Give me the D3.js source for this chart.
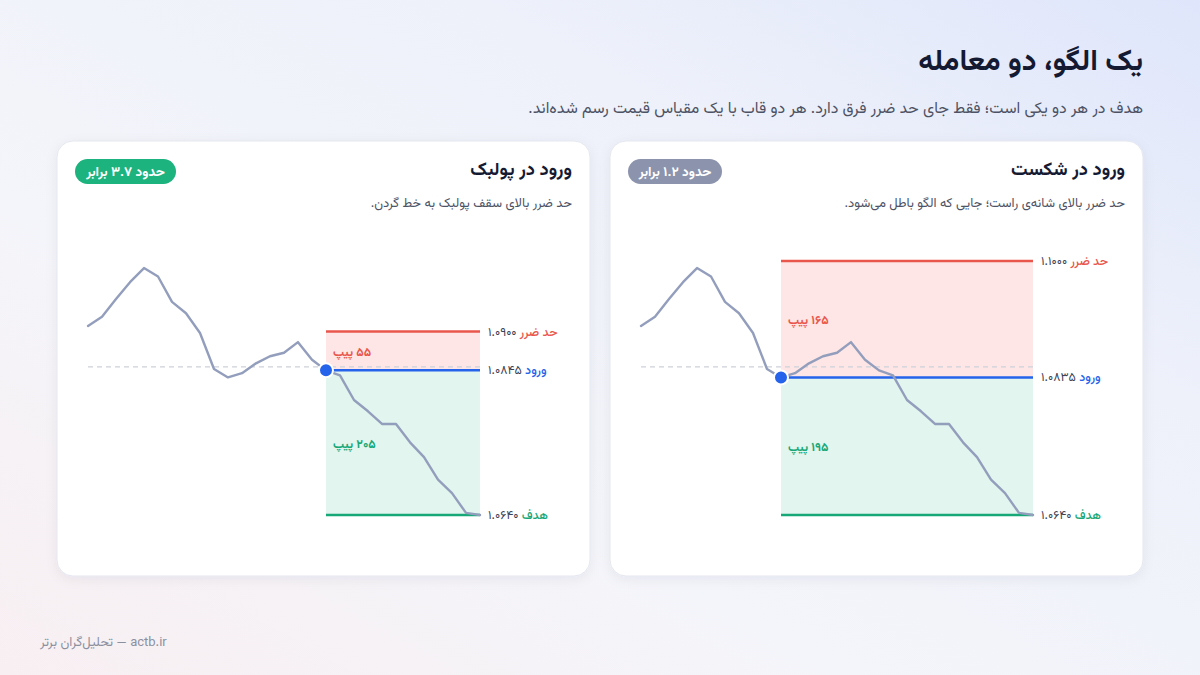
<!DOCTYPE html>
<html><head><meta charset="utf-8">
<script src="https://cdn.jsdelivr.net/npm/d3@7"></script>
<style>
html,body{margin:0;padding:0;width:1200px;height:675px;overflow:hidden;background:#f3f5fb;}
svg{display:block;font-family:'Vazirmatn','Noto Sans Arabic','DejaVu Sans',sans-serif;}
</style>
</head><body><svg id="c" width="1200" height="675"></svg>
<script>
// ---------- data ----------
const pricePath = [1.0908,1.0921,1.0946,1.0970,1.0990,1.0978,1.0942,1.0926,1.0898,1.0847,
  1.0835,1.0841,1.0855,1.0865,1.0870,1.0885,1.0860,1.0845,1.0838,1.0803,
  1.0787,1.0769,1.0769,1.0743,1.0722,1.0690,1.0671,1.0643,1.0640];
const neckline = 1.0850;
const targetPrice = 1.0640;
const panelTitles = ["ورود در پولبک","ورود در شکست"];
const panelNotes = ["حد ضرر بالای سقف پولبک به خط گردن.","حد ضرر بالای شانه‌ی راست؛ جایی که الگو باطل می‌شود."];
const entryIndex = [17, 10];
const entryPrice = [1.0845, 1.0835];
const stopPrice = [1.0900, 1.1000];
const ratioLabels = ["حدود ۳.۷ برابر","حدود ۱.۲ برابر"];
const badgeColors = ["#1db37f","#8c93ad"];
const lineLabels = {stop:"حد ضرر", entry:"ورود", target:"هدف"};
const pipWord = "پیپ";
const title = "یک الگو، دو معامله";
const subtitle = "هدف در هر دو یکی است؛ فقط جای حد ضرر فرق دارد. هر دو قاب با یک مقیاس قیمت رسم شده‌اند.";
const footer = "actb.ir — تحلیل‌گران برتر";

// ---------- helpers ----------
const fa = s => String(s).replace(/[0-9]/g, d => "۰۱۲۳۴۵۶۷۸۹"[d]);
const fmtP = d3.format(".4f");
const C = {red:"#e9574c", redFill:"#fde6e5", blue:"#2563eb", green:"#17a878", greenFill:"#e2f5ee",
  path:"#939ebd", dash:"#cdd1da", dark:"#151a33", grey:"#4d5364", labelGrey:"#3c4152"};

const svg = d3.select("#c");
const defs = svg.append("defs");
const bg = defs.append("linearGradient").attr("id","bg").attr("x1","0").attr("y1","1").attr("x2","1").attr("y2","0");
bg.append("stop").attr("offset","0").attr("stop-color","#f8eff2");
bg.append("stop").attr("offset","0.35").attr("stop-color","#f4f5fa");
bg.append("stop").attr("offset","0.7").attr("stop-color","#eef1fa");
bg.append("stop").attr("offset","1").attr("stop-color","#dfe6fb");
const sh = defs.append("filter").attr("id","sh").attr("x","-10%").attr("y","-10%").attr("width","120%").attr("height","130%");
sh.append("feDropShadow").attr("dx",0).attr("dy",3).attr("stdDeviation",6).attr("flood-color","#1b2550").attr("flood-opacity",0.06);

svg.append("rect").attr("width",1200).attr("height",675).attr("fill","url(#bg)");

svg.append("text").attr("x",1143).attr("y",70).attr("direction","rtl").attr("text-anchor","start")
  .attr("font-size",29.6).attr("font-weight",700).attr("fill",C.dark).text(title);
svg.append("text").attr("x",1143).attr("y",113).attr("direction","rtl").attr("text-anchor","start")
  .attr("font-size",15.9).attr("fill",C.grey).text(subtitle);
svg.append("text").attr("x",40).attr("y",646).attr("direction","rtl").attr("text-anchor","end")
  .attr("font-size",13).attr("fill","#8b90a0").text(footer);

// ---------- panels ----------
const cardX = [57, 610], cardY = 141, cardW = 533, cardH = 435;
const x = d3.scaleLinear().domain([0, pricePath.length-1]).range([31, 423]);
const y = d3.scaleLinear().domain([targetPrice, 1.1000]).range([374, 120]);

[0,1].forEach(i => {
  const g = svg.append("g").attr("transform", `translate(${cardX[i]},${cardY})`);
  g.append("rect").attr("width",cardW).attr("height",cardH).attr("rx",16)
    .attr("fill","#fff").attr("stroke","#e4e7ef").attr("filter","url(#sh)");
  g.append("text").attr("x",cardW-18).attr("y",34).attr("direction","rtl").attr("text-anchor","start")
    .attr("font-size",18.3).attr("font-weight",700).attr("fill",C.dark).text(panelTitles[i]);
  g.append("text").attr("x",cardW-18).attr("y",66).attr("direction","rtl").attr("text-anchor","start")
    .attr("font-size",13).attr("fill",C.grey).text(panelNotes[i]);
  // badge
  const bw = i===0 ? 101 : 94;
  const bgG = g.append("g").attr("transform","translate(18,18)");
  bgG.append("rect").attr("width",bw).attr("height",25).attr("rx",12.5).attr("fill",badgeColors[i]);
  bgG.append("text").attr("x",bw/2).attr("y",17).attr("text-anchor","middle").attr("direction","rtl")
    .attr("font-size",13.4).attr("font-weight",700).attr("fill","#fff").text(ratioLabels[i]);

  const x0 = x(entryIndex[i]), x1 = x(pricePath.length-1);
  const yS = y(stopPrice[i]), yE = y(entryPrice[i]), yT = y(targetPrice);
  g.append("rect").attr("x",x0).attr("y",yS).attr("width",x1-x0).attr("height",yE-yS).attr("fill",C.redFill);
  g.append("rect").attr("x",x0).attr("y",yE).attr("width",x1-x0).attr("height",yT-yE).attr("fill",C.greenFill);
  // neckline
  g.append("line").attr("x1",x(0)).attr("x2",x1).attr("y1",y(neckline)).attr("y2",y(neckline))
    .attr("stroke",C.dash).attr("stroke-width",1.3).attr("stroke-dasharray","5,4");
  // level lines
  [[yS,C.red],[yE,C.blue],[yT,C.green]].forEach(([yy,c]) => {
    g.append("line").attr("x1",x0).attr("x2",x1).attr("y1",yy).attr("y2",yy).attr("stroke",c).attr("stroke-width",2.5);
  });
  // price path
  g.append("path").datum(pricePath).attr("fill","none").attr("stroke",C.path).attr("stroke-width",2.4)
    .attr("stroke-linejoin","round").attr("stroke-linecap","round")
    .attr("d", d3.line().x((d,k)=>x(k)).y(d=>y(d)));
  // entry dot
  g.append("circle").attr("cx",x0).attr("cy",yE).attr("r",7).attr("fill",C.blue).attr("stroke","#fff").attr("stroke-width",2);
  // level labels
  [[yS,lineLabels.stop,C.red,stopPrice[i]],[yE,lineLabels.entry,C.blue,entryPrice[i]],[yT,lineLabels.target,C.green,targetPrice]]
  .forEach(([yy,lab,c,p]) => {
    const t = g.append("text").attr("x",x1+8).attr("y",yy+4).attr("direction","rtl").attr("text-anchor","end")
      .attr("font-size",12.4);
    t.append("tspan").attr("fill",c).attr("font-weight",500).text(lab+" ");
    t.append("tspan").attr("fill",C.labelGrey).text(fa(fmtP(p)));
  });
  // pip labels
  const riskPips = Math.round((stopPrice[i]-entryPrice[i])*10000);
  const rewardPips = Math.round((entryPrice[i]-targetPrice)*10000);
  g.append("text").attr("x",x0+7).attr("y",(yS+yE)/2+5).attr("direction","rtl").attr("text-anchor","end")
    .attr("font-size",12.2).attr("font-weight",700).attr("fill",C.red).text(fa(riskPips)+" "+pipWord);
  g.append("text").attr("x",x0+7).attr("y",(yE+yT)/2+5).attr("direction","rtl").attr("text-anchor","end")
    .attr("font-size",12.2).attr("font-weight",700).attr("fill",C.green).text(fa(rewardPips)+" "+pipWord);
});
</script>
</body></html>
